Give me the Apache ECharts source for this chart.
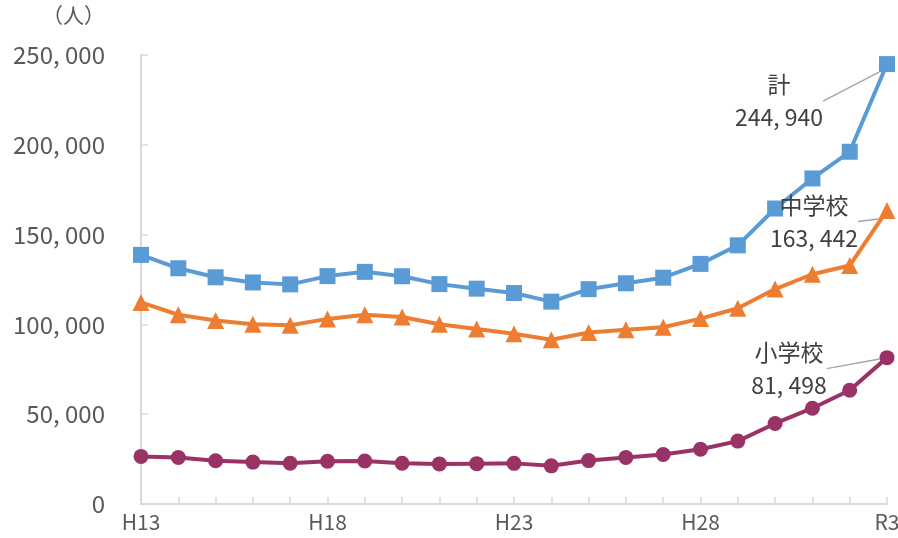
<!DOCTYPE html>
<html>
<head>
<meta charset="utf-8">
<script src="https://cdn.jsdelivr.net/npm/echarts@6/dist/echarts.min.js"></script>
<style>
html, body { margin: 0; padding: 0; background: #fff; }
#chart { width: 898px; height: 538px; }
</style>
</head>
<body>
<div id="chart"></div>
<script>
const years = ['H13','H14','H15','H16','H17','H18','H19','H20','H21','H22','H23','H24','H25','H26','H27','H28','H29','H30','R1','R2','R3'];
const total = [138722,131252,126226,123358,122287,126894,129255,126805,122432,119891,117458,112689,119617,122897,125991,133683,144031,164528,181272,196127,244940];
const junior = [112211,105383,102149,100040,99578,103069,105328,104153,100105,97428,94836,91446,95442,97033,98408,103235,108999,119687,127922,132777,163442];
const elementary = [26511,25869,24077,23318,22709,23825,23927,22652,22327,22463,22622,21243,24175,25864,27583,30448,35032,44841,53350,63350,81498];
const seriesNames = ['計','中学校','小学校'];
const yTicks = [0, 50000, 100000, 150000, 200000, 250000];

const FONT = "'Noto Sans CJK JP', sans-serif";
const fmt = v => String(v).replace(/\B(?=(\d{3})+(?!\d))/g, ', ');

const chart = echarts.init(document.getElementById('chart'));

// 最後の点だけに名前と値のラベルを付ける
const endLabel = (arr, name) => arr.map((v, i) => {
	if (i !== arr.length - 1) return v;
	return {
		value: v,
		label: {
			show: true,
			position: 'inside',
			formatter: name + '\n' + fmt(v),
			fontFamily: FONT,
			fontSize: 23,
			lineHeight: 33,
			color: '#404040',
			align: 'center',
			verticalAlign: 'middle'
		},
		labelLine: { show: true, lineStyle: { color: '#a6a6a6', width: 1.5 } }
	};
});

const lineSeries = (name, arr, color, symbol, size, dx, dy) => ({
	name: name,
	type: 'line',
	data: endLabel(arr, name),
	symbol: symbol,
	symbolSize: size,
	lineStyle: { color: color, width: 4 },
	itemStyle: { color: color },
	labelLayout: { dx: dx, dy: dy, moveOverlap: false },
	emphasis: { disabled: true },
	z: 3
});

chart.setOption({
	animation: false,
	textStyle: { fontFamily: FONT },
	grid: { left: 141, right: 11, top: 55, bottom: 34, outerBoundsMode: 'none', containLabel: false },
	graphic: [{
		type: 'text', left: 42, top: 5,
		style: { text: '（人）', fontFamily: FONT, fontSize: 21, fill: '#595959' }
	}],
	xAxis: {
		type: 'category',
		data: years,
		boundaryGap: false,
		axisLine: { lineStyle: { color: '#d9d9d9', width: 2 } },
		axisTick: { show: true, inside: true, length: 7, interval: 0, lineStyle: { color: '#d9d9d9', width: 1.5 } },
		axisLabel: { interval: 4, color: '#595959', fontSize: 21, margin: 8, fontFamily: FONT },
		splitLine: { show: false }
	},
	yAxis: {
		type: 'value',
		min: yTicks[0],
		max: yTicks[yTicks.length - 1],
		interval: 50000,
		axisLine: { show: true, lineStyle: { color: '#d9d9d9', width: 2 } },
		axisTick: { show: true, inside: true, length: 7, lineStyle: { color: '#d9d9d9', width: 1.5 } },
		axisLabel: { color: '#595959', fontSize: 24, margin: 36, fontFamily: FONT, formatter: v => fmt(v) },
		splitLine: { show: false }
	},
	series: [
		lineSeries(seriesNames[0], total, '#5b9bd5', 'rect', 16, -108, 37),
		lineSeries(seriesNames[1], junior, '#ed7d31', 'triangle', 17, -73, 11),
		lineSeries(seriesNames[2], elementary, '#993366', 'circle', 15, -98, 11)
	]
});
</script>
</body>
</html>
